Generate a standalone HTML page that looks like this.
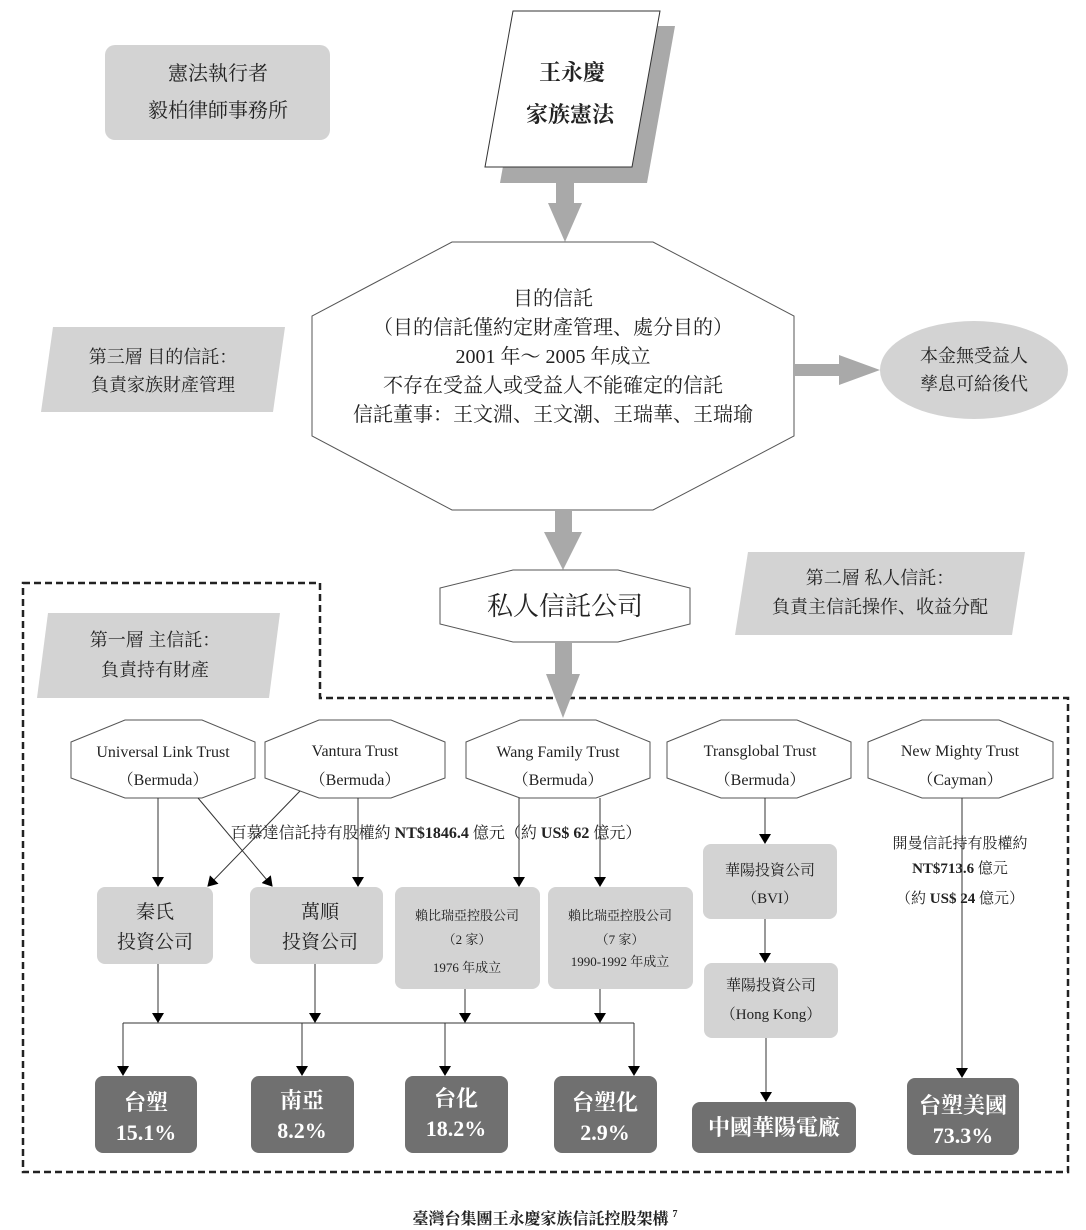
<!DOCTYPE html>
<html><head><meta charset="utf-8"><style>
html,body{margin:0;padding:0;background:#fff;}
svg{display:block;}
text{font-family:"Liberation Serif","Noto Serif CJK SC",serif;fill:#222;}
.b{font-weight:bold;}
.w{fill:#fff;font-weight:bold;}
</style></head><body>
<svg width="1086" height="1230" viewBox="0 0 1086 1230" xmlns="http://www.w3.org/2000/svg">
<defs>
<marker id="ah" markerWidth="10" markerHeight="12" refX="9" refY="6" orient="auto" markerUnits="userSpaceOnUse">
<path d="M0,0 L10,6 L0,12 Z" fill="#000"/>
</marker>
</defs>

<!-- top-left box -->
<rect x="105" y="45" width="225" height="95" rx="10" fill="#d3d3d3"/>
<text x="218" y="80" font-size="20" text-anchor="middle">憲法執行者</text>
<text x="218" y="117" font-size="20" text-anchor="middle">毅柏律師事務所</text>

<!-- document -->
<polygon points="528,26 675,26 647,183 500,183" fill="#a9a9a9"/>
<polygon points="513,11 660,11 632,167 485,167" fill="#fff" stroke="#333" stroke-width="1"/>
<text x="572" y="80" font-size="22" text-anchor="middle" class="b">王永慶</text>
<text x="570" y="122" font-size="22" text-anchor="middle" class="b">家族憲法</text>

<!-- arrow doc -> octagon -->
<polygon points="556,183 574,183 574,203 582,203 565,242 548,203 556,203" fill="#a9a9a9"/>

<!-- main octagon -->
<polygon points="452,242 653,242 794,316 794,436 653,510 452,510 312,436 312,316" fill="#fff" stroke="#555" stroke-width="1"/>
<text x="553" y="305" font-size="20" text-anchor="middle">目的信託</text>
<text x="553" y="334" font-size="20" text-anchor="middle">（目的信託僅約定財產管理、處分目的）</text>
<text x="553" y="363" font-size="20" text-anchor="middle">2001 年～ 2005 年成立</text>
<text x="553" y="392" font-size="20" text-anchor="middle">不存在受益人或受益人不能確定的信託</text>
<text x="553" y="421" font-size="20" text-anchor="middle">信託董事：王文淵、王文潮、王瑞華、王瑞瑜</text>

<!-- third layer parallelogram -->
<polygon points="53,327 285,327 273,412 41,412" fill="#d3d3d3"/>
<text x="163" y="363" font-size="18" text-anchor="middle">第三層 目的信託：</text>
<text x="163" y="391" font-size="18" text-anchor="middle">負責家族財產管理</text>

<!-- right arrow + ellipse -->
<polygon points="794,364 839,364 839,355 880,370 839,385 839,376 794,376" fill="#a9a9a9"/>
<ellipse cx="974" cy="370" rx="94" ry="49" fill="#d3d3d3"/>
<text x="974" y="362" font-size="18" text-anchor="middle">本金無受益人</text>
<text x="974" y="390" font-size="18" text-anchor="middle">孳息可給後代</text>

<!-- arrow octagon -> private trust -->
<polygon points="555,510 572,510 572,532 582,532 563,570 544,532 555,532" fill="#a9a9a9"/>

<!-- second layer parallelogram -->
<polygon points="748,552 1025,552 1012,635 735,635" fill="#d3d3d3"/>
<text x="880" y="584" font-size="18" text-anchor="middle">第二層 私人信託：</text>
<text x="880" y="613" font-size="18" text-anchor="middle">負責主信託操作、收益分配</text>

<!-- private trust octagon -->
<polygon points="513,570 618,570 690,588 690,624 618,642 513,642 440,624 440,588" fill="#fff" stroke="#555" stroke-width="1"/>
<text x="565" y="615" font-size="26" text-anchor="middle">私人信託公司</text>

<!-- first layer parallelogram -->
<polygon points="48,613 280,613 269,698 37,698" fill="#d3d3d3"/>
<text x="155" y="646" font-size="18" text-anchor="middle">第一層 主信託：</text>
<text x="155" y="676" font-size="18" text-anchor="middle">負責持有財產</text>

<!-- dashed border -->
<path d="M23,583 H320 V698 H1068 V1172 H23 Z" fill="none" stroke="#222" stroke-width="2.5" stroke-dasharray="7,4"/>

<!-- arrow private -> wang -->
<polygon points="555,642 572,642 572,674 580,674 563,718 546,674 555,674" fill="#a9a9a9"/>

<!-- trust octagons -->
<g fill="#fff" stroke="#555" stroke-width="1">
<polygon points="125,720 202,720 255,742 255,778 202,798 125,798 71,778 71,742"/>
<polygon points="319,720 391,720 445,742 445,778 391,798 319,798 265,778 265,742"/>
<polygon points="520,720 596,720 650,742 650,778 596,798 520,798 466,778 466,742"/>
<polygon points="721,720 797,720 851,742 851,778 797,798 721,798 667,778 667,742"/>
<polygon points="922,720 999,720 1053,742 1053,778 999,798 922,798 868,778 868,742"/>
</g>
<g font-size="16" text-anchor="middle">
<text x="163" y="757">Universal Link Trust</text>
<text x="163" y="785">（Bermuda）</text>
<text x="355" y="756">Vantura Trust</text>
<text x="355" y="785">（Bermuda）</text>
<text x="558" y="757">Wang Family Trust</text>
<text x="558" y="785">（Bermuda）</text>
<text x="760" y="756">Transglobal Trust</text>
<text x="760" y="785">（Bermuda）</text>
<text x="960" y="756">New Mighty Trust</text>
<text x="960" y="785">（Cayman）</text>
</g>

<!-- connectors top -->
<g stroke="#333" stroke-width="1" fill="none" marker-end="url(#ah)">
<line x1="158" y1="798" x2="158" y2="886"/>
<line x1="198" y1="798" x2="272" y2="886"/>
<line x1="300" y1="791" x2="208" y2="886"/>
<line x1="358" y1="798" x2="358" y2="886"/>
<line x1="519" y1="798" x2="519" y2="886"/>
<line x1="600" y1="798" x2="600" y2="886"/>
<line x1="765" y1="798" x2="765" y2="843"/>
<line x1="765" y1="919" x2="765" y2="962"/>
<line x1="766" y1="1038" x2="766" y2="1101"/>
<line x1="962" y1="798" x2="962" y2="1077"/>
</g>

<text x="436" y="838" font-size="16" text-anchor="middle">百慕達信託持有股權約 <tspan class="b">NT$1846.4</tspan> 億元（約 <tspan class="b">US$ 62</tspan> 億元）</text>
<text x="960" y="848" font-size="15" text-anchor="middle">開曼信託持有股權約</text>
<text x="960" y="873" font-size="15" text-anchor="middle"><tspan class="b">NT$713.6</tspan> 億元</text>
<text x="960" y="903" font-size="15" text-anchor="middle">（約 <tspan class="b">US$ 24</tspan> 億元）</text>

<!-- mid boxes -->
<g fill="#d3d3d3">
<rect x="97" y="887" width="116" height="77" rx="8"/>
<rect x="250" y="887" width="133" height="77" rx="8"/>
<rect x="395" y="887" width="145" height="102" rx="8"/>
<rect x="548" y="887" width="145" height="102" rx="8"/>
<rect x="703" y="844" width="134" height="75" rx="8"/>
<rect x="704" y="963" width="134" height="75" rx="8"/>
</g>
<text x="155" y="918" font-size="19" text-anchor="middle">秦氏</text>
<text x="155" y="948" font-size="19" text-anchor="middle">投資公司</text>
<text x="320" y="918" font-size="19" text-anchor="middle">萬順</text>
<text x="320" y="948" font-size="19" text-anchor="middle">投資公司</text>
<g font-size="13" text-anchor="middle">
<text x="467" y="920">賴比瑞亞控股公司</text>
<text x="467" y="944">（2 家）</text>
<text x="467" y="972">1976 年成立</text>
<text x="620" y="920">賴比瑞亞控股公司</text>
<text x="620" y="944">（7 家）</text>
<text x="620" y="966">1990-1992 年成立</text>
<text x="770" y="875" font-size="15">華陽投資公司</text>
<text x="770" y="903" font-size="15">（BVI）</text>
<text x="771" y="990" font-size="15">華陽投資公司</text>
<text x="771" y="1019" font-size="15">（Hong Kong）</text>
</g>

<!-- bottom connectors -->
<g stroke="#333" stroke-width="1" fill="none">
<line x1="123" y1="1023" x2="634" y2="1023"/>
</g>
<g stroke="#333" stroke-width="1" fill="none" marker-end="url(#ah)">
<line x1="158" y1="964" x2="158" y2="1022"/>
<line x1="315" y1="964" x2="315" y2="1022"/>
<line x1="465" y1="989" x2="465" y2="1022"/>
<line x1="600" y1="989" x2="600" y2="1022"/>
<line x1="123" y1="1023" x2="123" y2="1075"/>
<line x1="302" y1="1023" x2="302" y2="1075"/>
<line x1="445" y1="1023" x2="445" y2="1075"/>
<line x1="634" y1="1023" x2="634" y2="1075"/>
</g>

<!-- company boxes -->
<g fill="#707070">
<rect x="95" y="1076" width="102" height="77" rx="8"/>
<rect x="251" y="1076" width="103" height="77" rx="8"/>
<rect x="405" y="1076" width="103" height="77" rx="8"/>
<rect x="554" y="1076" width="103" height="77" rx="8"/>
<rect x="692" y="1102" width="164" height="51" rx="8"/>
<rect x="907" y="1078" width="112" height="77" rx="8"/>
</g>
<g font-size="22" text-anchor="middle">
<text class="w" x="146" y="1110">台塑</text>
<text class="w" x="146" y="1140">15.1%</text>
<text class="w" x="302" y="1108">南亞</text>
<text class="w" x="302" y="1138">8.2%</text>
<text class="w" x="456" y="1106">台化</text>
<text class="w" x="456" y="1136">18.2%</text>
<text class="w" x="605" y="1110">台塑化</text>
<text class="w" x="605" y="1140">2.9%</text>
<text class="w" x="774" y="1135">中國華陽電廠</text>
<text class="w" x="963" y="1113">台塑美國</text>
<text class="w" x="963" y="1143">73.3%</text>
</g>

<text x="545" y="1224" font-size="16" text-anchor="middle" class="b">臺灣台集團王永慶家族信託控股架構 <tspan font-size="10" dy="-7">7</tspan></text>
</svg>
</body></html>
